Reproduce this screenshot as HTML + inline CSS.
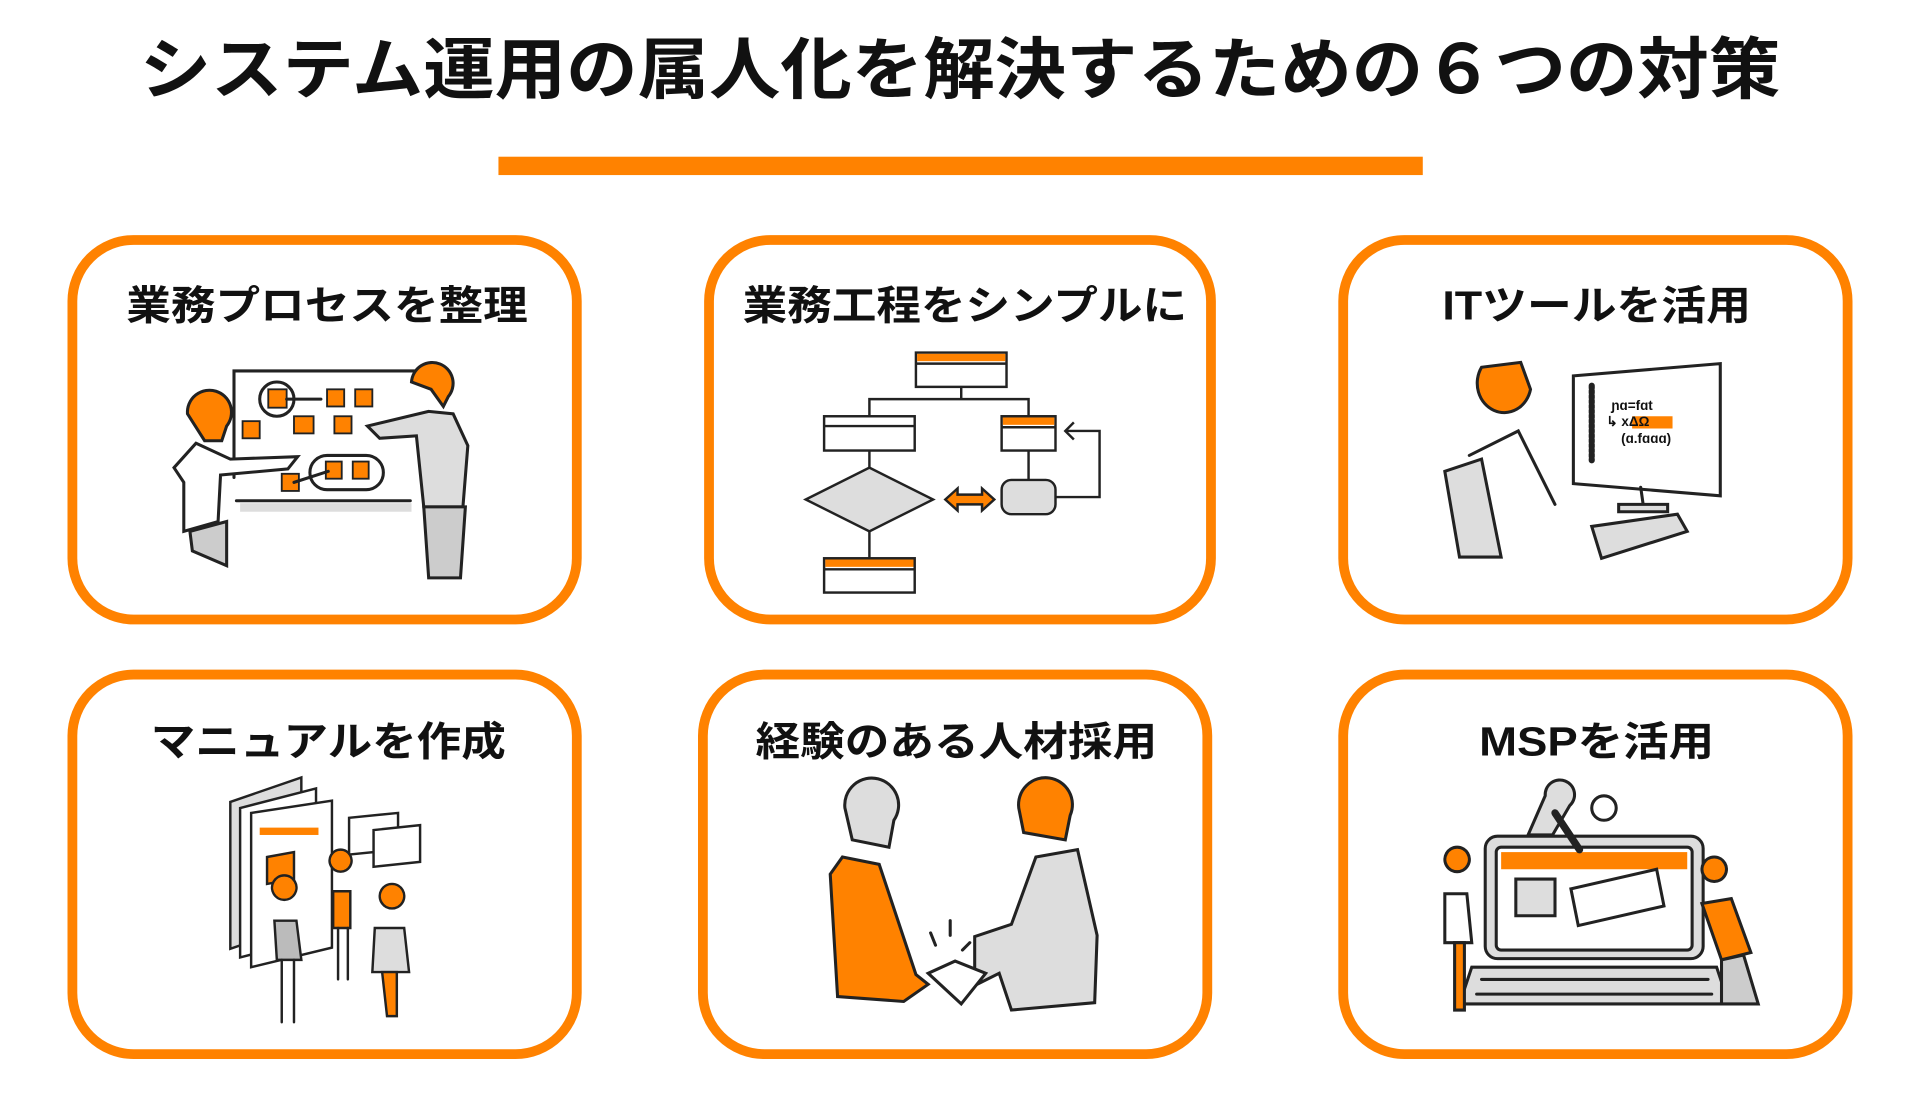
<!DOCTYPE html>
<html><head><meta charset="utf-8">
<style>
html,body{margin:0;padding:0;background:#fff;}
svg{display:block;}
text{font-family:"Liberation Sans","Noto Sans CJK JP",sans-serif;font-weight:700;fill:#111;}
</style></head>
<body>
<svg width="1920" height="1119" viewBox="0 0 1568 914" xmlns="http://www.w3.org/2000/svg">
<rect width="1568" height="914" fill="#fff"/>
<text x="784" y="76" font-size="55" text-anchor="middle" textLength="1340" lengthAdjust="spacingAndGlyphs">システム運用の属人化を解決するための６つの対策</text>
<rect x="407" y="128" width="755" height="15" fill="#FF8200"/>

<g fill="none" stroke="#FF8200" stroke-width="8">
<rect x="59" y="196" width="412" height="310" rx="50"/>
<rect x="579" y="196" width="410" height="310" rx="50"/>
<rect x="1097" y="196" width="412" height="310" rx="50"/>
<rect x="59" y="551" width="412" height="310" rx="50"/>
<rect x="574" y="551" width="412" height="310" rx="50"/>
<rect x="1097" y="551" width="412" height="310" rx="50"/>
</g>

<g font-size="33">
<text x="267" y="261" text-anchor="middle" textLength="328" lengthAdjust="spacingAndGlyphs">業務プロセスを整理</text>
<text x="788" y="261" text-anchor="middle" textLength="363" lengthAdjust="spacingAndGlyphs">業務工程をシンプルに</text>
<text x="1304" y="261" text-anchor="middle" textLength="252" lengthAdjust="spacingAndGlyphs">ITツールを活用</text>
<text x="268" y="617" text-anchor="middle" textLength="290" lengthAdjust="spacingAndGlyphs">マニュアルを作成</text>
<text x="781" y="617" text-anchor="middle" textLength="328" lengthAdjust="spacingAndGlyphs">経験のある人材採用</text>
<text x="1304" y="617" text-anchor="middle" textLength="192" lengthAdjust="spacingAndGlyphs">MSPを活用</text>
</g>

<!-- Illustration 1: whiteboard -->
<g stroke="#222" stroke-width="2.5" fill="none" stroke-linecap="round">
<polyline points="191,390 191,303 357,303"/>
<rect x="196" y="411" width="140" height="7" fill="#ddd" stroke="none"/>
<line x1="193" y1="409" x2="335" y2="409"/>
<g fill="#FF8200" stroke="#222" stroke-width="1.5">
<rect x="219" y="318" width="15" height="15"/><rect x="267" y="318" width="14" height="14"/><rect x="290" y="318" width="14" height="14"/>
<rect x="198" y="344" width="14" height="14"/><rect x="240" y="340" width="16" height="14"/><rect x="273" y="340" width="14" height="14"/>
<rect x="266" y="377" width="13" height="14"/><rect x="288" y="377" width="13" height="14"/><rect x="230" y="387" width="14" height="14"/>
</g>
<circle cx="226" cy="326" r="14"/>
<line x1="234" y1="326" x2="262" y2="326"/>
<rect x="253" y="372" width="60" height="28" rx="14"/>
<line x1="240" y1="394" x2="268" y2="385"/>
<!-- left person -->
<path d="M153,338 a18,18 0 1,1 32,10 l-4,12 -14,0z" fill="#FF8200"/>
<path d="M160,362 l-18,20 8,12 0,40 28,-8 2,-38 55,-5 8,-10 -55,2z" fill="#fff"/>
<path d="M155,434 l30,-8 0,36 -28,-12z" fill="#ccc"/>
<!-- right person -->
<path d="M336,312 a17,17 0 1,1 30,12 l-4,8 -10,-14z" fill="#FF8200"/>
<path d="M350,336 l-50,12 10,10 30,-2 6,58 32,0 4,-50 -12,-26z" fill="#ddd"/>
<path d="M346,414 l34,0 -4,58 -26,0z" fill="#ccc"/>
</g>

<!-- Illustration 2: flowchart -->
<g stroke="#222" stroke-width="2" fill="#fff">
<line x1="785" y1="316" x2="785" y2="326"/><polyline points="710,340 710,326 840,326 840,340" fill="none"/>
<rect x="748" y="288" width="74" height="28"/><rect x="749" y="289" width="72" height="6" fill="#FF8200" stroke="none"/><line x1="748" y1="297" x2="822" y2="297"/>
<rect x="673" y="340" width="74" height="28"/><line x1="673" y1="348" x2="747" y2="348"/>
<rect x="818" y="340" width="44" height="28"/><rect x="819" y="341" width="42" height="6" fill="#FF8200" stroke="none"/><line x1="818" y1="349" x2="862" y2="349"/>
<line x1="710" y1="368" x2="710" y2="382"/><line x1="840" y1="368" x2="840" y2="392"/>
<polygon points="658,408 710,382 762,408 710,434" fill="#ddd"/>
<line x1="710" y1="434" x2="710" y2="456"/>
<rect x="673" y="456" width="74" height="28"/><rect x="674" y="457" width="72" height="6" fill="#FF8200" stroke="none"/><line x1="673" y1="465" x2="747" y2="465"/>
<rect x="818" y="392" width="44" height="28" rx="8" fill="#ddd"/>
<polyline points="862,406 898,406 898,352 870,352" fill="none"/>
<polyline points="877,345 870,352 877,359" fill="none"/>
<path d="M772,408 l10,-9 0,5 20,0 0,-5 10,9 -10,9 0,-5 -20,0 0,5z" fill="#FF8200"/>
</g>

<!-- Illustration 3: IT tool -->
<g stroke="#222" stroke-width="2.5" fill="none" stroke-linecap="round">
<path d="M1285,307 l120,-10 0,108 -120,-10z" fill="#fff"/>
<line x1="1300" y1="315" x2="1300" y2="376" stroke-width="5" stroke-dasharray="2 2"/>
<rect x="1333" y="340" width="33" height="10" fill="#FF8200" stroke="none"/>
<line x1="1340" y1="398" x2="1342" y2="412"/><path d="M1322,412 l40,0 0,6 -40,0z" fill="#ddd"/>
<path d="M1300,430 l70,-10 8,14 -70,22z" fill="#ddd"/>
<path d="M1210,300 a22,24 0 1,0 40,18 l-8,-22z" fill="#FF8200"/>
<path d="M1180,385 l30,-10 16,80 -34,0z" fill="#ddd"/>
<path d="M1200,372 l40,-20 30,60"/>
</g>
<g font-size="11" style="font-weight:700"><text x="1316" y="335">ɲɑ=fɑt</text><text x="1312" y="348">↳ xΔΩ</text><text x="1324" y="362">(ɑ.fɑɑɑ)</text></g>

<!-- Illustration 4: manual -->
<g stroke="#222" stroke-width="2" fill="#fff" stroke-linecap="round">
<path d="M188,655 l58,-20 0,120 -58,20z" fill="#ddd"/>
<path d="M196,660 l62,-16 0,122 -62,16z"/>
<path d="M205,664 l66,-10 0,120 -66,16z"/>
<rect x="212" y="676" width="48" height="6" fill="#FF8200" stroke="none"/>
<path d="M218,700 l22,-4 0,22 -22,4z" fill="#FF8200"/>
<path d="M285,668 l40,-4 0,30 -40,4z"/><path d="M305,678 l38,-4 0,30 -38,4z"/>
<path d="M232,735 a10,10 0 1,1 0.1,0z" fill="#FF8200"/>
<path d="M224,752 l18,0 4,32 -20,0z" fill="#bbb"/><line x1="230" y1="784" x2="230" y2="835"/><line x1="240" y1="784" x2="240" y2="835"/>
<path d="M278,712 a9,9 0 1,1 0.1,0z" fill="#FF8200"/>
<path d="M272,728 l14,0 0,30 -14,0z" fill="#FF8200"/><line x1="276" y1="758" x2="276" y2="800"/><line x1="284" y1="758" x2="284" y2="800"/>
<path d="M320,742 a10,10 0 1,1 0.1,0z" fill="#FF8200"/>
<path d="M306,758 l24,0 4,36 -30,0z" fill="#ddd"/><path d="M312,794 l12,0 0,36 -8,0z" fill="#FF8200"/>
</g>

<!-- Illustration 5: handshake -->
<g stroke="#222" stroke-width="2.5" fill="none" stroke-linecap="round">
<path d="M690,660 a22,22 0 1,1 40,10 l-4,22 -30,-6z" fill="#ddd"/>
<path d="M688,700 l30,6 30,90 10,8 -20,14 -54,-4 -6,-100z" fill="#FF8200"/>
<path d="M832,660 a22,22 0 1,1 42,6 l-4,20 -34,-6z" fill="#FF8200"/>
<path d="M846,700 l34,-6 16,70 -2,55 -68,6 -10,-30 -20,10 0,-40 30,-10z" fill="#ddd"/>
<path d="M758,795 l22,-10 25,10 -20,25z" fill="#fff"/>
<line x1="760" y1="762" x2="764" y2="772"/><line x1="776" y1="752" x2="776" y2="764"/><line x1="792" y1="770" x2="786" y2="776"/>
</g>

<!-- Illustration 6: MSP -->
<g stroke="#222" stroke-width="2.5" fill="none" stroke-linecap="round">
<rect x="1213" y="683" width="178" height="100" rx="10" fill="#ddd"/>
<rect x="1222" y="692" width="160" height="84" rx="4" fill="#fff"/>
<rect x="1226" y="696" width="152" height="14" fill="#FF8200" stroke="none"/>
<path d="M1238,718 l32,0 0,30 -32,0z" fill="#ddd"/>
<path d="M1283,726 l70,-16 6,30 -70,16z" fill="#fff"/>
<path d="M1202,790 l200,0 10,30 -220,0z" fill="#ddd"/>
<line x1="1210" y1="800" x2="1395" y2="800"/><line x1="1206" y1="812" x2="1398" y2="812"/>
<path d="M1262,650 a12,12 0 1,1 20,8 l-14,24 -20,0z" fill="#ddd"/>
<path d="M1270,664 l20,30" stroke-width="6"/>
<circle cx="1310" cy="660" r="10"/>
<path d="M1190,712 a10,10 0 1,1 0.1,0z" fill="#FF8200"/>
<path d="M1180,730 l18,0 4,40 -22,0z" fill="#fff"/><path d="M1188,770 l8,0 0,55 -8,0z" fill="#FF8200"/>
<path d="M1400,720 a10,10 0 1,1 0.1,0z" fill="#FF8200"/>
<path d="M1390,738 l24,-4 16,44 -24,6z" fill="#FF8200"/><path d="M1406,784 l18,-4 12,40 -30,0z" fill="#ccc"/>
</g>
</svg>
</body></html>
